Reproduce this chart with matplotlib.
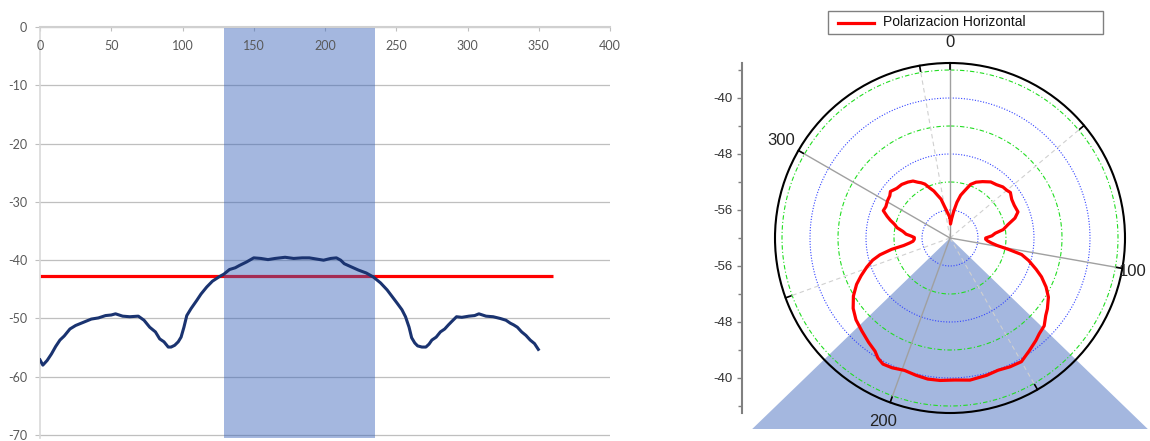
import numpy as np
import matplotlib
matplotlib.use("Agg")
import matplotlib.pyplot as plt
from matplotlib.patches import Polygon, Rectangle
from matplotlib.lines import Line2D

# ---------------- data ----------------
angles = [0, 2, 5, 8, 11, 14, 17, 21, 25, 30, 36, 41, 46, 50, 53, 58, 63, 69, 73, 77,
          81, 84, 87, 90, 92, 94.5, 97, 99, 101, 103, 106, 110, 113, 117, 121, 126, 129,
          133, 137, 140, 145, 150, 155, 160, 165, 172, 178, 184, 189, 194, 199, 204, 208,
          211, 213.5, 218, 223.5, 229, 234, 239, 243.6, 247, 250.7, 254, 256.5, 259, 260.8,
          263, 265, 268, 270.8, 273, 275, 278, 281, 284, 286.6, 289, 292.3, 296, 301, 305,
          308, 313, 318, 323, 327, 330, 332.4, 335, 338, 341, 344, 347, 349.7]
levels = [-57.1, -58.0, -57.2, -56.1, -54.8, -53.7, -53.0, -51.8, -51.2, -50.7, -50.1, -49.9,
          -49.5, -49.4, -49.2, -49.6, -49.7, -49.6, -50.3, -51.5, -52.3, -53.5, -54.0, -54.9,
          -54.9, -54.6, -54.0, -53.2, -51.5, -49.5, -48.3, -46.9, -45.8, -44.6, -43.6, -42.8,
          -42.4, -41.6, -41.3, -40.9, -40.3, -39.6, -39.7, -39.9, -39.7, -39.5, -39.7, -39.6,
          -39.6, -39.8, -40.0, -39.7, -39.6, -40.0, -40.6, -41.1, -41.7, -42.2, -42.9, -43.9,
          -45.1, -46.2, -47.4, -48.5, -49.7, -51.5, -53.3, -54.2, -54.7, -54.9, -54.9, -54.4,
          -53.7, -53.2, -52.3, -51.8, -51.1, -50.5, -49.7, -49.8, -49.6, -49.5, -49.2, -49.6,
          -49.7, -50.0, -50.3, -50.8, -51.1, -51.5, -52.3, -52.9, -53.7, -54.3, -55.3]
threshold = -42.7
threshold_span = [0, 360]
band = [129, 235]
polar_shade = [134, 226]
x_ticks = [0, 50, 100, 150, 200, 250, 300, 350, 400]
y_ticks = [0, -10, -20, -30, -40, -50, -60, -70]
r_ticks = [-56, -48, -40]
r_minor = [-60, -52, -44, -36]
blue_rings = [-56, -48, -40]
green_rings = [-52, -44, -36]
theta_major = [0, 100, 200, 300]
theta_minor = [50, 150, 250, 350]
series_name = "Polarizacion Horizontal"

# ---------------- figure ----------------
W, H = 1150, 441
fig = plt.figure(figsize=(W / 100, H / 100), dpi=100)
fig.patch.set_facecolor("white")


def fx(px):
    return px / W


def fy(py):
    return 1 - py / H


# ---------------- left cartesian chart ----------------
ax = fig.add_axes([fx(40), fy(438), (610 - 40) / W, (438 - 27) / H])
ax.set_xlim(0, 400)
ax.set_ylim(-70.5, 0)
ax.set_yticks(y_ticks)
ax.set_yticklabels([str(v) for v in y_ticks], family="Lato", fontsize=9, color="#595959")
ax.yaxis.grid(True, color="#BFBFBF", lw=0.9)
ax.set_axisbelow(True)
ax.tick_params(axis="y", direction="out", length=3.6, color="#BFBFBF", pad=5.5)
ax.xaxis.tick_top()
ax.set_xticks(x_ticks)
ax.tick_params(axis="x", direction="in", length=3, color="#BFBFBF", labeltop=False, labelbottom=False)
for xv in x_ticks:
    ax.annotate(str(xv), xy=(xv, 0), xytext=(0, -13.5), textcoords="offset points",
                ha="center", va="center", family="Lato", fontsize=9, color="#595959",
                annotation_clip=False)
for s in ["right", "bottom"]:
    ax.spines[s].set_visible(False)
ax.spines["top"].set_color("#D0D0D0")
ax.spines["top"].set_linewidth(1.5)
ax.spines["left"].set_color("#D9D9D9")
ax.spines["left"].set_linewidth(1.2)

ax.plot(threshold_span, [threshold, threshold], color="#FF0000", lw=2.3, zorder=2,
        solid_capstyle="butt")
ax.axvspan(band[0], band[1], color=(53 / 255, 97 / 255, 186 / 255), alpha=0.45, lw=0, zorder=2.5)
ax.plot(angles, levels, color="#1A3370", lw=2.2, zorder=3)

# ---------------- right polar chart ----------------
pax = fig.add_axes([fx(775), fy(413), 350 / W, 350 / H], projection="polar")
pax.set_theta_zero_location("N")
pax.set_theta_direction(-1)
pax.set_rlim(-60, -35)
pax.grid(False)
pax.set_xticks([])
pax.set_yticks([])
pax.spines["polar"].set_color("black")
pax.spines["polar"].set_linewidth(1.5)

# shaded wedge
half = np.deg2rad(180 - polar_shade[0])
r_far = -60 + (191 / 7) / np.cos(half)
tri = Polygon([(np.deg2rad(180), -60),
               (np.deg2rad(polar_shade[0]), r_far),
               (np.deg2rad(polar_shade[1]), r_far)],
              closed=True, facecolor=(53 / 255, 97 / 255, 186 / 255), alpha=0.45,
              lw=0, zorder=0.5, clip_on=False)
pax.add_patch(tri)

th = np.linspace(0, 2 * np.pi, 721)
for r in blue_rings:
    pax.plot(th, np.full_like(th, r), color="#3344FF", lw=0.8, ls=(0, (1, 1.5)), zorder=1.5)
for r in green_rings:
    pax.plot(th, np.full_like(th, r), color="#22DD22", lw=0.8, ls=(0, (4, 2, 1, 2)), zorder=1.5)
for t in theta_minor:
    pax.plot([np.deg2rad(t)] * 2, [-60, -35], color="#D0D0D0", lw=0.8, ls=(0, (4, 3)), zorder=1.6)
for t in theta_major:
    pax.plot([np.deg2rad(t)] * 2, [-60, -35], color="#A0A0A0", lw=1.0, zorder=1.7)
for t in theta_major + theta_minor:
    pax.plot([np.deg2rad(t)] * 2, [-35.8, -35], color="black", lw=1.2, zorder=3, clip_on=False)
for t in theta_major:
    # keep the label that sits near the right edge inside the canvas
    dx = -7 if t == 100 else 0
    pax.annotate(str(t), xy=(np.deg2rad(t), -32.1), xytext=(dx, 0), textcoords="offset points",
                 ha="center", va="center", fontsize=12, family="Liberation Sans",
                 color="#222222", annotation_clip=False)

pax.plot(np.deg2rad(angles + [360]), levels + [levels[0]], color="#FF0000", lw=2.3, zorder=4)

# radial scale on the left
rax = fig.add_axes([fx(741.7), fy(413), 0.0005, 350 / H])
rax.set_facecolor("none")
rax.set_ylim(-25, 25)
for s in ["right", "top", "bottom"]:
    rax.spines[s].set_visible(False)
rax.spines["left"].set_color("#808080")
rax.spines["left"].set_linewidth(1.5)
rax.set_xticks([])
maj_pos = [r + 60 for r in r_ticks] + [-(r + 60) for r in r_ticks]
maj_lab = [str(r) for r in r_ticks] * 2
rax.set_yticks(maj_pos)
rax.set_yticklabels(maj_lab, family="Liberation Sans", fontsize=9.5, color="#333333")
min_pos = sorted(set([r + 60 for r in r_minor] + [-(r + 60) for r in r_minor]))
rax.set_yticks(min_pos, minor=True)
rax.tick_params(axis="y", which="major", direction="out", length=3.6, width=1, color="#808080", pad=3)
rax.tick_params(axis="y", which="minor", direction="out", length=2.9, width=1, color="#808080")

# legend box
fig.add_artist(Rectangle((fx(828), fy(34)), 275 / W, 23 / H, transform=fig.transFigure,
                         fill=False, edgecolor="#808080", lw=1.0))
fig.add_artist(Line2D([fx(838), fx(874)], [fy(22.5), fy(22.5)], transform=fig.transFigure,
                      color="#FF0000", lw=2.3))
fig.text(fx(883), fy(22.5), series_name, ha="left", va="center", fontsize=10,
         family="Liberation Sans", color="#111111")

fig.savefig("out.png", dpi=100)
